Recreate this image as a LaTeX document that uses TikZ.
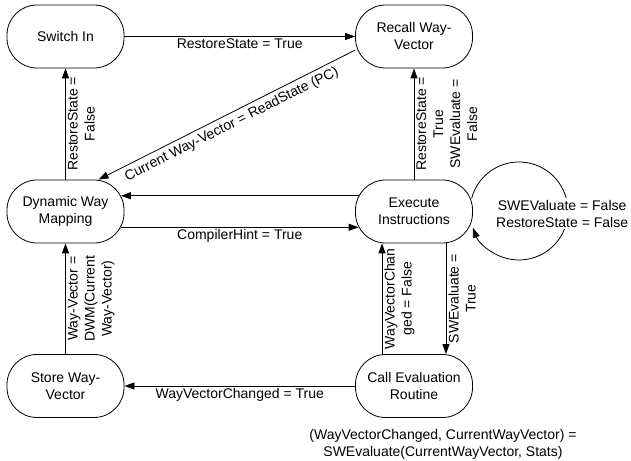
\documentclass[tikz,border=0pt]{standalone}
\usepackage{fontspec}
\setmainfont{Liberation Sans}
\usetikzlibrary{arrows.meta}

\begin{document}
\begin{tikzpicture}[x=1pt, y=1pt, >={Triangle[length=10pt,width=7pt]},
    font=\fontsize{14}{17}\selectfont,
    stage/.style={draw, line width=0.8pt, rounded corners=30pt, minimum width=117pt, minimum height=63pt, align=center, inner sep=0pt},
    lbl/.style={align=center, inner sep=2pt},
    vlbl/.style={lbl, rotate=90, anchor=north},
    link/.style={->, line width=0.8pt}]
    \useasboundingbox (0,0) rectangle (631,460);
    \node[stage] (switch) at (65.5,423.5) {Switch In};
    \node[stage] (recall) at (414,423.5) {Recall Way-\\Vector};
    \node[stage] (dwm) at (65.5,248.5) {Dynamic Way\\Mapping};
    \node[stage] (exec) at (414,248.5) {Execute\\Instructions};
    \node[stage] (store) at (65.5,74) {Store Way-\\Vector};
    \node[stage] (call) at (414,74) {Call Evaluation\\Routine};

    \draw[link] (switch.east) -- node[lbl, below] {RestoreState = True} (recall.west);
    \draw[link] (recall.193) -- node[lbl, sloped, below, inner sep=4pt] {Current Way-Vector = ReadState (PC)} (dwm.44);
    \draw[link] (dwm.north) -- node[vlbl] {RestoreState =\\False} (switch.south);
    \draw[link] (exec.north) -- node[vlbl] {RestoreState =\\True\\SWEvaluate =\\False} (recall.south);
    \draw[link] ([xshift=3.5pt]exec.165) -- ([xshift=-3.5pt]dwm.15);
    \draw[link] ([xshift=-3.5pt]dwm.-15) -- node[lbl, below] {CompilerHint = True} ([xshift=3.5pt]exec.195);
    \draw[link] (store.north) -- node[vlbl] {Way-Vector =\\DWM(Current\\Way-Vector)} (dwm.south);
    \draw[link] ([xshift=-32pt]call.north) -- node[vlbl] {WayVectorChan\\ged = False} ([xshift=-32pt]exec.south);
    \draw[link] ([xshift=32pt]exec.south) -- node[vlbl] {SWEvaluate =\\True} ([xshift=32pt]call.north);
    \draw[link] (call.west) -- node[lbl, below] {WayVectorChanged = True} (store.east);

    % self loop on Execute
    \draw[link] ([shift={(-1.3pt,13.2pt)}]exec.east) arc[start angle=165, end angle=-160, radius=49pt];
    \node[lbl, fill=white, anchor=west] (loopnote) at (494,246.5) {SWEValuate = False\\RestoreState = False};

    \node[lbl] (evalnote) at (443,16) {(WayVectorChanged, CurrentWayVector) =\\SWEvaluate(CurrentWayVector, Stats)};
\end{tikzpicture}
\end{document}
